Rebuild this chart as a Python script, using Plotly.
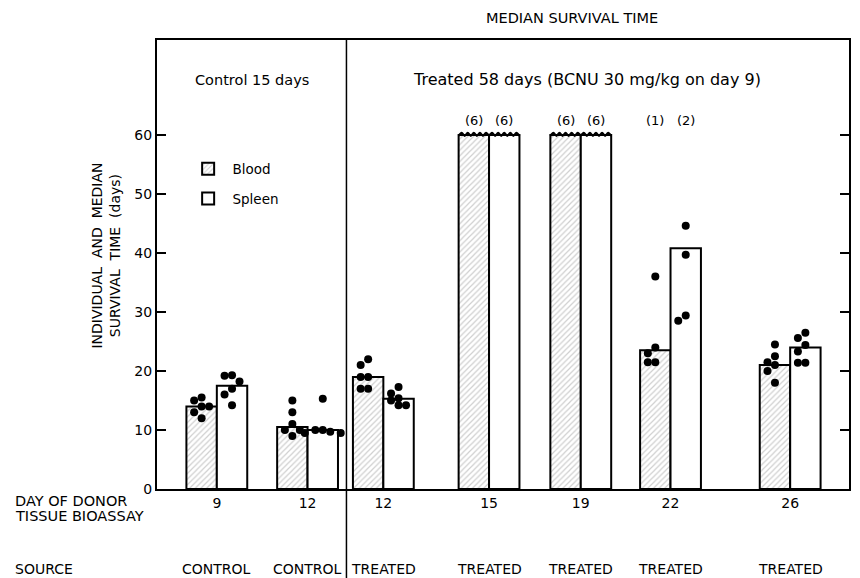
import plotly.graph_objects as go

# ---------------- data ----------------
day_labels = ["9", "12", "12", "15", "19", "22", "26"]
source_labels = ["CONTROL", "CONTROL", "TREATED", "TREATED", "TREATED", "TREATED", "TREATED"]
group_pos = [21.7, 30.8, 38.4, 49.0, 58.2, 67.2, 79.2]   # x slot of each bioassay group

blood_median = [14, 10.5, 19, 60, 60, 23.5, 21]
spleen_median = [17.5, 10, 15.3, 60, 60, 40.8, 24]

blood_points = [
    [15.5, 15, 14, 14, 13, 12],
    [15, 13, 11, 10, 10, 9],
    [22, 21, 19, 19, 17, 17],
    [],
    [],
    [36, 24, 23, 21.5, 21.5],
    [24.5, 22.5, 21.5, 21, 20, 18],
]
spleen_points = [
    [19.3, 19.2, 18.2, 17, 16, 14.2],
    [15.3, 10, 10, 9.7, 9.5, 9.5],
    [17.3, 16.2, 15.4, 15, 14.2, 14.2],
    [],
    [],
    [44.6, 39.7, 29.4, 28.5],
    [26.5, 25.6, 24.4, 23.3, 21.4, 21.4],
]
blood_survivors = [None, None, None, "(6)", "(6)", "(1)", None]
spleen_survivors = [None, None, None, "(6)", "(6)", "(2)", None]
capped_value = 60          # bars drawn with a broken (wavy) top
divider_x = 34.7           # control / treated boundary

# ---------------- style ----------------
FONT = "DejaVu Sans"
BW = 3.05
fig = go.Figure()

fig.add_trace(go.Bar(
    x=group_pos, y=blood_median, width=BW, offset=-BW, name=" Blood",
    marker=dict(color="white", line=dict(color="black", width=2),
                pattern=dict(shape="/", fgcolor="#a0a0a0", size=4, solidity=0.3)),
    legendgroup="b",
))
fig.add_trace(go.Bar(
    x=group_pos, y=spleen_median, width=BW, offset=0, name=" Spleen",
    marker=dict(color="white", line=dict(color="black", width=2)),
    legendgroup="s",
))


def swarm(vals, center):
    placed = []
    for v in sorted(vals, reverse=True):
        chosen = 0
        for off in (0, -0.75, 0.75, -1.3, 1.3, -1.8, 1.8):
            if all(((off - px) * 10) ** 2 + ((v - py) * 5.9) ** 2 >= 6.5 ** 2 for px, py in placed):
                chosen = off
                break
        placed.append((chosen, v))
    return [center + p[0] for p in placed], [p[1] for p in placed]


dx, dy = [], []
for i, g in enumerate(group_pos):
    for pts, c in ((blood_points[i], g - BW / 2), (spleen_points[i], g + BW / 2)):
        a, b = swarm(pts, c)
        dx += a
        dy += b
fig.add_trace(go.Scatter(x=dx, y=dy, mode="markers", showlegend=False,
                         marker=dict(color="black", size=8), hoverinfo="skip"))

# wavy tops on capped bars
for i, g in enumerate(group_pos):
    for med, x0 in ((blood_median[i], g - BW), (spleen_median[i], g)):
        if med >= capped_value:
            n = 10
            zx = [x0 + BW * k / n for k in range(n + 1)]
            zy = [med + (0.4 if k % 2 else -0.15) for k in range(n + 1)]
            fig.add_trace(go.Scatter(x=zx, y=zy, mode="lines", showlegend=False,
                                     line=dict(color="black", width=2, shape="spline"),
                                     hoverinfo="skip"))


def txt(size):
    return dict(size=size, family=FONT, color="black")


ann = []
for i, g in enumerate(group_pos):
    for lab, c in ((blood_survivors[i], g - BW / 2), (spleen_survivors[i], g + BW / 2)):
        if lab:
            ann.append(dict(x=c, y=capped_value, text=lab, showarrow=False, yanchor="bottom",
                            xanchor="center", yshift=5, font=txt(13)))
    ann.append(dict(x=g, y=-0.178, yref="paper", text=source_labels[i], showarrow=False,
                    xanchor="center", yanchor="middle", font=txt(14)))

ann += [
    dict(x=57.3, y=1.049, xref="x", yref="paper", text="MEDIAN SURVIVAL TIME", showarrow=False,
         xanchor="center", yanchor="middle", font=txt(14.5)),
    dict(x=25.2, y=0.911, xref="x", yref="paper", text="Control 15 days", showarrow=False,
         xanchor="center", yanchor="middle", font=txt(14.5)),
    dict(x=58.8, y=0.911, xref="x", yref="paper", text="Treated 58 days (BCNU 30 mg/kg on day 9)",
         showarrow=False, xanchor="center", yanchor="middle", font=txt(16)),
    dict(x=-0.075, y=0.52, xref="paper", yref="paper", textangle=-90,
         xanchor="center", yanchor="middle",
         text="INDIVIDUAL  AND  MEDIAN<br>SURVIVAL  TIME  (days)", showarrow=False,
         font=txt(14)),
    dict(x=-0.208, y=-0.027, xref="paper", yref="paper", xanchor="left", yanchor="middle",
         text="DAY OF DONOR", showarrow=False, font=txt(14.5)),
    dict(x=-0.208, y=-0.061, xref="paper", yref="paper", xanchor="left", yanchor="middle",
         text="TISSUE BIOASSAY", showarrow=False, font=txt(14.5)),
    dict(x=-0.208, y=-0.178, xref="paper", yref="paper", xanchor="left", yanchor="middle",
         text="SOURCE", showarrow=False, font=txt(14)),
]

fig.update_layout(
    width=860, height=578,
    margin=dict(l=157, r=9, t=40, b=89),
    paper_bgcolor="white", plot_bgcolor="white",
    barmode="overlay",
    font=dict(family=FONT, color="black"),
    annotations=ann,
    shapes=[dict(type="line", xref="x", yref="paper", x0=divider_x, x1=divider_x,
                 y0=-0.2, y1=1, line=dict(color="black", width=1.5))],
    legend=dict(x=0.045, y=0.747, xanchor="left", yanchor="top", bgcolor="rgba(0,0,0,0)",
                font=txt(13.5), tracegroupgap=9),
    xaxis=dict(range=[15.7, 85.1], tickvals=group_pos, ticktext=day_labels, ticks="",
               showgrid=False, zeroline=False, showline=True, linecolor="black", linewidth=2,
               mirror=True, tickfont=txt(14)),
    yaxis=dict(range=[0, 76.1], tickvals=[0, 10, 20, 30, 40, 50, 60], ticks="inside",
               ticklen=9, tickwidth=2, tickcolor="black", showgrid=False, zeroline=False,
               showline=True, linecolor="black", linewidth=2, mirror="ticks",
               tickfont=txt(14)),
)

fig.write_html("out.html", config={"displayModeBar": False},
               post_script="document.body.style.margin='0';document.body.style.overflow='hidden';")
